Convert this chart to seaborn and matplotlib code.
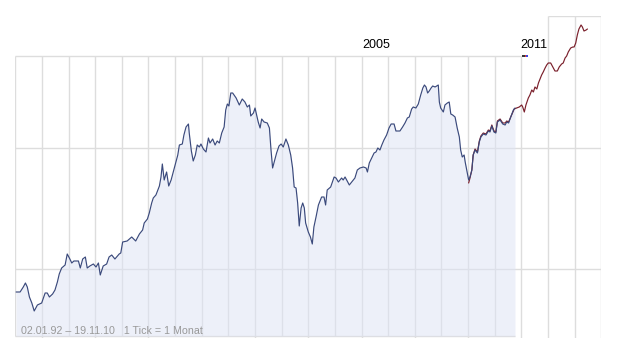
import pandas as pd
import matplotlib
matplotlib.use("Agg")
import matplotlib.pyplot as plt
import seaborn as sns

# -------------------- DATA --------------------

# main series, 02.01.92 - 19.11.10 (decimal years, index level)
years = [
    1992.03, 1992.18, 1992.30, 1992.38, 1992.45, 1992.53, 1992.62, 1992.71, 1992.83, 1992.99,
    1993.12, 1993.20, 1993.28, 1993.40, 1993.49, 1993.58, 1993.65, 1993.74, 1993.87, 1993.95,
    1994.03, 1994.12, 1994.20, 1994.37, 1994.44, 1994.53, 1994.63, 1994.70, 1994.80, 1994.93,
    1995.03, 1995.12, 1995.19, 1995.30, 1995.43, 1995.52, 1995.62, 1995.74, 1995.90, 1995.96,
    1996.03, 1996.20, 1996.37, 1996.52, 1996.66, 1996.78, 1996.84, 1996.96,
    1997.03, 1997.12, 1997.18, 1997.28, 1997.41, 1997.47, 1997.52, 1997.59, 1997.68, 1997.76,
    1997.85, 1997.91, 1998.00, 1998.10, 1998.16, 1998.27, 1998.33, 1998.41, 1998.50, 1998.53,
    1998.61, 1998.68, 1998.76, 1998.83, 1998.91, 1998.97, 1999.06, 1999.16, 1999.25, 1999.31,
    1999.41, 1999.50, 1999.58, 1999.66, 1999.75, 1999.84, 1999.90, 1999.96,
    2000.02, 2000.09, 2000.16, 2000.29, 2000.41, 2000.52, 2000.62, 2000.71, 2000.79, 2000.84,
    2000.94, 2001.00, 2001.06, 2001.12, 2001.19, 2001.25, 2001.34, 2001.46, 2001.54, 2001.60,
    2001.66, 2001.72, 2001.81, 2001.90, 2001.98, 2002.06, 2002.16, 2002.25, 2002.34, 2002.41,
    2002.47, 2002.54, 2002.60, 2002.66, 2002.73, 2002.79, 2002.85, 2002.90,
    2003.00, 2003.08, 2003.15, 2003.21, 2003.29, 2003.38, 2003.50, 2003.59, 2003.65, 2003.71,
    2003.84, 2003.97, 2004.04, 2004.13, 2004.25, 2004.31, 2004.38, 2004.46, 2004.54, 2004.63,
    2004.75, 2004.84, 2004.94, 2005.07, 2005.17, 2005.22, 2005.29, 2005.38, 2005.47, 2005.54,
    2005.61, 2005.69, 2005.76, 2005.84, 2005.94, 2006.03, 2006.11, 2006.22, 2006.29, 2006.44,
    2006.54, 2006.63, 2006.72, 2006.79, 2006.88, 2006.94, 2007.04, 2007.13, 2007.22, 2007.30,
    2007.36, 2007.42, 2007.48, 2007.54, 2007.61, 2007.67, 2007.76, 2007.82, 2007.88, 2007.92,
    2007.97, 2008.07, 2008.13, 2008.22, 2008.29, 2008.35, 2008.42, 2008.51, 2008.59, 2008.67,
    2008.72, 2008.78, 2008.85, 2008.89, 2008.96, 2009.02, 2009.07, 2009.14, 2009.19, 2009.26,
    2009.35, 2009.42, 2009.48, 2009.57, 2009.67, 2009.76, 2009.82, 2009.89, 2009.97, 2010.04,
    2010.10, 2010.20, 2010.30, 2010.39, 2010.45, 2010.52, 2010.60, 2010.70, 2010.76,
]
level = [
    44, 44, 49, 53, 49, 39, 33, 25, 31, 33,
    43, 43, 39, 42, 46, 54, 62, 68, 71, 82,
    78, 73, 75, 75, 68, 77, 79, 68, 70, 72,
    69, 73, 61, 70, 72, 79, 81, 77, 82, 83,
    94, 95, 99, 95, 102, 106, 113, 117,
    123, 133, 138, 141, 150, 159, 172, 156, 164, 150,
    156, 162, 171, 181, 191, 192, 201, 209, 212, 203,
    185, 175, 181, 191, 189, 192, 187, 184, 198, 193,
    197, 191, 195, 193, 203, 209, 226, 232,
    230, 243, 243, 238, 231, 237, 234, 229, 231, 220,
    223, 228, 221, 214, 208, 217, 214, 213, 208, 186,
    168, 174, 183, 190, 192, 189, 197, 191, 181, 168,
    149, 148, 133, 110, 128, 133, 128, 113,
    104, 99, 92, 109, 119, 131, 139, 139, 131, 146,
    149, 159, 158, 154, 158, 156, 159, 155, 151, 154,
    158, 166, 168, 169, 168, 164, 173, 178, 183, 184,
    188, 186, 191, 196, 201, 208, 212, 212, 205, 205,
    209, 213, 218, 219, 227, 229, 228, 232, 241, 248,
    251, 249, 243, 245, 248, 250, 249, 250, 251, 234,
    228, 224, 231, 233, 234, 222, 221, 219, 208, 199,
    186, 179, 181, 174, 164, 156, 159, 166, 181, 186,
    183, 194, 199, 202, 201, 205, 204, 210, 204, 203,
    214, 216, 212, 211, 214, 213, 219, 226, 228,
]

# comparison series (dark red), from the 2009 low onwards
red_years = [
    2009.02, 2009.07, 2009.14, 2009.19, 2009.26, 2009.35, 2009.42, 2009.48, 2009.57, 2009.67,
    2009.76, 2009.82, 2009.89, 2009.97, 2010.04, 2010.10, 2010.20, 2010.30, 2010.39, 2010.45,
    2010.52, 2010.60, 2010.73, 2010.82, 2010.92, 2011.01, 2011.05, 2011.11, 2011.17, 2011.26,
    2011.32, 2011.39, 2011.45, 2011.51, 2011.58, 2011.64, 2011.70, 2011.76, 2011.82, 2011.89,
    2011.95, 2012.01, 2012.10, 2012.18, 2012.26, 2012.35, 2012.42, 2012.51, 2012.57, 2012.64,
    2012.70, 2012.76, 2012.85, 2012.93, 2012.98, 2013.04, 2013.10, 2013.16, 2013.24, 2013.29,
    2013.35, 2013.43, 2013.48,
]
red_level = [
    153, 158, 166, 181, 187, 184, 195, 200, 203, 202,
    206, 205, 211, 205, 204, 215, 217, 213, 213, 215,
    214, 219, 227, 228, 229, 231, 229, 224, 231, 238,
    241, 246, 244, 249, 247, 253, 257, 261, 264, 268,
    271, 273, 273, 269, 265, 265, 269, 272, 273, 278,
    280, 284, 288, 289, 289, 293, 301, 307, 311, 309,
    305, 306, 307,
]

# panel layout (years on x, index level on y)
grid_levels = [67, 188]
main_top = 280
future_top = 320
tick_years = [1993, 1995, 1997, 2001, 2003, 2005, 2007, 2009]

df = pd.DataFrame({"year": years, "level": level})
df_red = pd.DataFrame({"year": red_years, "level": red_level})

# -------------------- PLOT --------------------

sns.set_style("white")
plt.rcParams["font.family"] = ["Liberation Sans", "DejaVu Sans"]

fig = plt.figure(figsize=(6.18, 3.57), dpi=100)
ax = fig.add_axes([15.3 / 618, 19 / 357, 586 / 618, 322 / 357])
ax.set_xlim(1992, 2014)
ax.set_ylim(-2, 320)
ax.axis("off")

grid_col = "#dddddd"
lw_grid = 1.0

# vertical year lines
for yr in range(1992, 2015):
    if yr <= 2010:
        ax.vlines(yr, 0, main_top, color=grid_col, lw=lw_grid, zorder=0)
    elif yr == 2011:
        ax.vlines(yr, -1.5, main_top, color=grid_col, lw=lw_grid, zorder=0)
    else:
        ax.vlines(yr, -1.5, future_top, color=grid_col, lw=lw_grid, zorder=0)
for yr in tick_years:
    ax.vlines(yr, -2, 0, color=grid_col, lw=lw_grid, zorder=0)

# horizontal lines / frame
for lv in grid_levels:
    ax.hlines(lv, 1992, 2014, color=grid_col, lw=lw_grid, zorder=0)
ax.hlines(main_top, 1992, 2011, color=grid_col, lw=lw_grid, zorder=0)
ax.hlines(future_top, 2012, 2014, color=grid_col, lw=lw_grid, zorder=0)
ax.hlines(0, 1992, years[-1], color=grid_col, lw=lw_grid, zorder=0)

# area + lines
ax.fill_between(df["year"], df["level"], 0, color="#dde3f5", alpha=0.5, lw=0, zorder=1)
sns.lineplot(data=df_red, x="year", y="level", ax=ax, color="#7a1f2b",
             linewidth=0.85, estimator=None, zorder=2)
sns.lineplot(data=df, x="year", y="level", ax=ax, color="#3b4a7c",
             linewidth=0.85, estimator=None, zorder=3)

# small legend marker next to 2011
ax.hlines(main_top, 2011.04, 2011.12, color="#111111", lw=1.2, zorder=4)
ax.hlines(main_top, 2011.12, 2011.19, color="#dd1111", lw=1.2, zorder=4)
ax.hlines(main_top, 2011.19, 2011.26, color="#1122dd", lw=1.2, zorder=4)

# year labels
ax.text(2005.54, 287.7, "2005", ha="center", va="baseline", fontsize=9, color="black")
ax.text(2011.46, 287.7, "2011", ha="center", va="baseline", fontsize=9, color="black")

fig.text(20.7 / 618, (357 - 334) / 357, "02.01.92 \u2013 19.11.10   1 Tick = 1 Monat",
         fontsize=7.7, color="#999999", ha="left", va="baseline")

fig.savefig("out.png", dpi=100)
